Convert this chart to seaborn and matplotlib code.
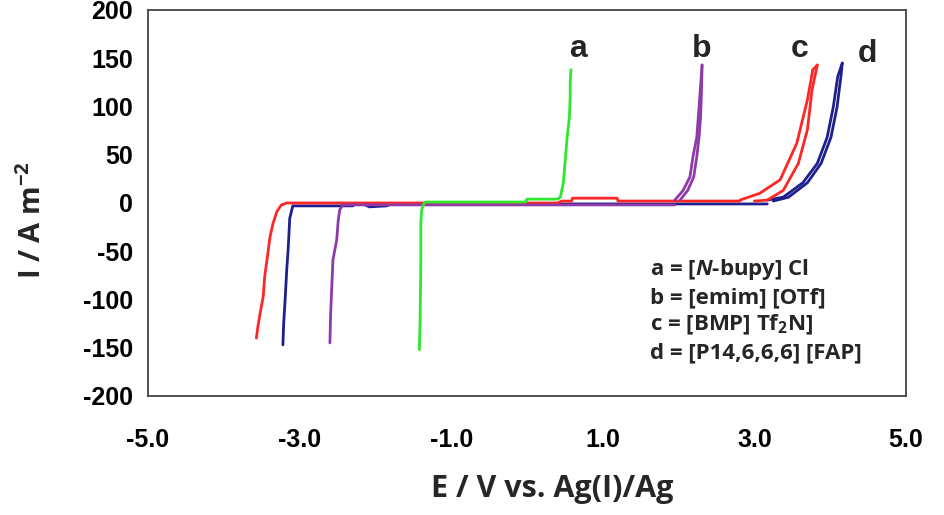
import matplotlib
matplotlib.use("Agg")
import matplotlib.pyplot as plt
import seaborn as sns
import pandas as pd

# electrochemical windows of the four ionic liquids
# a = [N-bupy] Cl  (green)
a_E = [-1.42, -1.41, -1.40, -1.40, -1.39, -1.37, -1.34, -1.20, -0.02, 0.00, 0.40, 0.44, 0.48, 0.53, 0.56, 0.57, 0.57, 0.58]
a_I = [-152, -120, -60, -20, -8, -2, 1, 1, 1, 4, 4, 6, 21, 68, 89, 110, 125, 138]

# b = [emim] [OTf]  (purple)
b_cat_E = [-2.60, -2.59, -2.56, -2.51, -2.49, -2.47, -2.43, -2.38, 1.95]
b_cat_I = [-145, -114, -59, -38, -18, -7, -2, -2, -2]
b_fwd_E = [1.95, 2.06, 2.15, 2.19, 2.24, 2.26, 2.28, 2.31]
b_fwd_I = [3, 13, 27, 48, 68, 89, 110, 143]
b_rev_E = [2.31, 2.30, 2.29, 2.27, 2.24, 2.20, 2.12, 2.02]
b_rev_I = [143, 110, 89, 68, 48, 27, 13, 3]

# c = [BMP] Tf2N  (red)
c_cat_E = [-3.57, -3.55, -3.52, -3.48, -3.46, -3.43, -3.39, -3.35, -3.30, -3.24, -3.17,
           0.40, 0.46, 0.59, 0.60, 1.19, 1.20, 2.81]
c_cat_I = [-140, -128, -114, -97, -76, -59, -35, -21, -9, -2, 0,
           0, 2, 2, 5, 5, 2, 2]
c_fwd_E = [2.81, 3.07, 3.34, 3.56, 3.70, 3.77, 3.83]
c_fwd_I = [3, 10, 24, 62, 107, 138, 143]
c_rev_E = [3.83, 3.76, 3.70, 3.58, 3.38, 3.17, 3.00]
c_rev_I = [143, 117, 76, 41, 13, 3, 2]

# d = [P14,6,6,6] [FAP]  (navy)
d_cat_E = [-3.22, -3.21, -3.19, -3.17, -3.15, -3.13, -3.09, -2.30, -2.26, -2.16, -2.08, -1.85, -1.80, 3.17]
d_cat_I = [-147, -125, -99, -70, -47, -16, -3, -3, -1, -1, -4, -3, -1, -1]
d_fwd_E = [3.17, 3.38, 3.64, 3.83, 3.96, 4.04, 4.10, 4.16]
d_fwd_I = [3, 6, 21, 41, 68, 99, 131, 145]
d_rev_E = [4.16, 4.14, 4.09, 4.01, 3.88, 3.70, 3.45, 3.25]
d_rev_I = [145, 130, 99, 68, 41, 21, 6, 2]

curve_labels = ["a", "b", "c", "d"]
label_E = [0.67, 2.31, 3.60, 4.49]
label_I = [151, 151, 151, 146]
legend_lines = [r"a = [$N$-bupy] Cl", "b = [emim] [OTf]", r"c = [BMP] Tf$_2$N]", "d = [P14,6,6,6] [FAP]"]

x_ticks = [-5, -3, -1, 1, 3, 5]
x_ticklabels = ["-5.0", "-3.0", "-1.0", "1.0", "3.0", "5.0"]
y_ticks = [-200, -150, -100, -50, 0, 50, 100, 150, 200]

palette = {"d": "#1f1f8f", "c": "#ff2626", "b": "#8e3aa8", "a": "#2ee82e"}

segs = [
    ("d", "d1", d_cat_E, d_cat_I), ("d", "d2", d_fwd_E, d_fwd_I), ("d", "d3", d_rev_E, d_rev_I),
    ("c", "c1", c_cat_E, c_cat_I), ("c", "c2", c_fwd_E, c_fwd_I), ("c", "c3", c_rev_E, c_rev_I),
    ("b", "b1", b_cat_E, b_cat_I), ("b", "b2", b_fwd_E, b_fwd_I), ("b", "b3", b_rev_E, b_rev_I),
    ("a", "a1", a_E, a_I),
]
df = pd.concat([
    pd.DataFrame({"E": e, "I": i, "liquid": liq, "seg": s}) for liq, s, e, i in segs
], ignore_index=True)

sns.set_theme(style="white")
plt.rcParams["font.family"] = ["Liberation Sans", "DejaVu Sans"]
plt.rcParams["axes.unicode_minus"] = False
plt.rcParams["mathtext.fontset"] = "custom"
plt.rcParams["mathtext.rm"] = "Open Sans:bold"
plt.rcParams["mathtext.it"] = "Open Sans:italic:bold"
plt.rcParams["mathtext.bf"] = "Open Sans:bold"

fig = plt.figure(figsize=(9.45, 5.15), dpi=100)
ax = fig.add_axes([0.1566, 0.2311, 0.8021, 0.7495])

sns.lineplot(data=df, x="E", y="I", hue="liquid", units="seg", estimator=None,
             sort=False, palette=palette, hue_order=["d", "c", "b", "a"],
             linewidth=2.0, legend=False, ax=ax)

ax.set_xlim(-5, 5)
ax.set_ylim(-200, 200)
ax.set_xticks(x_ticks)
ax.set_xticklabels(x_ticklabels)
ax.set_yticks(y_ticks)
ax.set_yticklabels([str(v) for v in y_ticks])
ax.tick_params(axis="both", direction="in", length=5, width=1.1, color="#444444",
               labelsize=18, labelcolor="black")
ax.tick_params(axis="x", pad=23)
ax.tick_params(axis="y", pad=11)
for lab in ax.get_xticklabels() + ax.get_yticklabels():
    lab.set_fontweight("bold")
for sp in ax.spines.values():
    sp.set_visible(True)
    sp.set_color("#444444")
    sp.set_linewidth(1.3)

ax.set_xlabel("E / V vs. Ag(I)/Ag", fontsize=22, family="Open Sans", fontweight="bold",
              va="center", ha="center")
ax.xaxis.set_label_coords(0.533, -0.24)
ax.set_ylabel(r"I / A m$^{-2}$", fontsize=21, family="Open Sans", fontweight="bold",
              va="center", ha="center")
ax.yaxis.set_label_coords(-0.152, 0.455)

for lab, e, i in zip(curve_labels, label_E, label_I):
    ax.text(e, i, lab, fontsize=23, fontweight="bold", ha="center", va="baseline")

for k, line in enumerate(legend_lines):
    ax.text(1.62, -75 - 28.7 * k, line, fontsize=16, family="Open Sans",
            fontweight="bold", ha="left", va="baseline")

fig.savefig("out.png", dpi=100)
